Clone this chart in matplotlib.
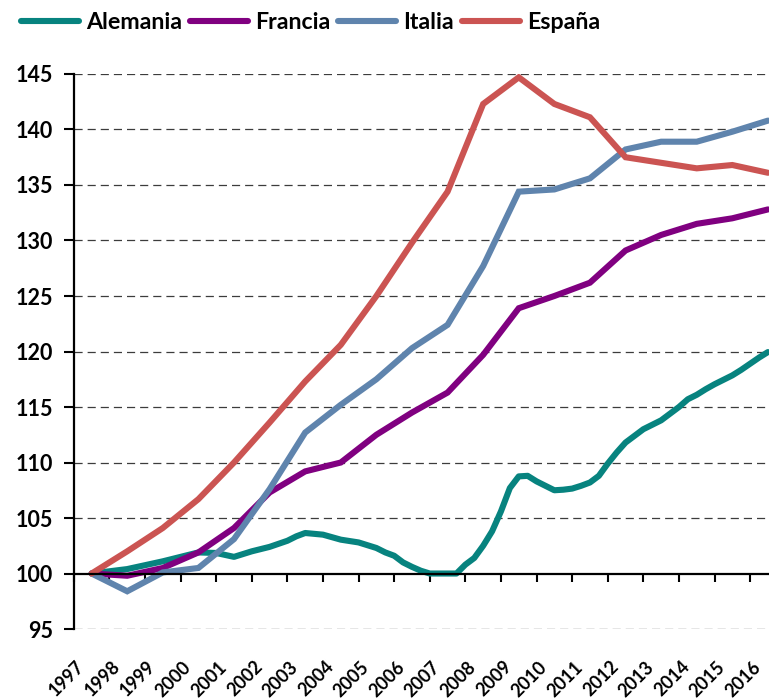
import numpy as np
import matplotlib.pyplot as plt
from matplotlib import transforms

plt.rcParams['font.family'] = ['Lato', 'DejaVu Sans']
plt.rcParams['font.weight'] = 'bold'

# annual index (1997 = 100)
years = list(range(1997, 2017))
francia = [100.0, 99.8, 100.5, 101.9, 104.1, 107.3, 109.2, 110.0, 112.5, 114.5,
           116.3, 119.7, 123.9, 125.0, 126.2, 129.1, 130.5, 131.5, 132.0, 132.8]
italia = [100.0, 98.4, 100.1, 100.5, 103.1, 107.6, 112.7, 115.2, 117.5, 120.3,
          122.4, 127.7, 134.4, 134.6, 135.6, 138.2, 138.9, 138.9, 139.8, 140.8]
espana = [100.0, 102.0, 104.1, 106.7, 110.0, 113.6, 117.3, 120.6, 125.0, 129.8,
          134.4, 142.3, 144.7, 142.3, 141.1, 137.5, 137.0, 136.5, 136.8, 136.1]

# germany comes in finer steps
ale_t = [1997.0, 1998.0, 1999.0, 2000.0, 2000.5, 2001.0, 2001.5, 2002.0, 2002.5,
         2002.75, 2003.0, 2003.5, 2004.0, 2004.5, 2005.0, 2005.25, 2005.5, 2005.75,
         2006.0, 2006.25, 2006.5, 2006.75, 2007.0, 2007.25, 2007.5, 2007.75,
         2008.0, 2008.25, 2008.5, 2008.75, 2009.0, 2009.25, 2009.5, 2009.75,
         2010.0, 2010.25, 2010.5, 2010.75, 2011.0, 2011.25, 2011.5, 2011.75,
         2012.0, 2012.25, 2012.5, 2012.75, 2013.0, 2013.25, 2013.5, 2013.75,
         2014.0, 2014.25, 2014.5, 2014.75, 2015.0, 2015.25, 2015.5, 2015.75, 2016.0]
alemania = [100.0, 100.4, 101.1, 101.9, 101.85, 101.5, 102.0, 102.4, 102.95,
            103.35, 103.65, 103.5, 103.05, 102.8, 102.3, 101.9, 101.6, 101.0,
            100.6, 100.25, 100.0, 100.0, 100.0, 100.0, 100.8, 101.4,
            102.5, 103.8, 105.6, 107.7, 108.75, 108.8, 108.3, 107.9,
            107.5, 107.55, 107.65, 107.9, 108.2, 108.8, 109.9, 110.9,
            111.8, 112.4, 113.0, 113.4, 113.8, 114.4, 115.0, 115.7,
            116.1, 116.6, 117.05, 117.45, 117.85, 118.35, 118.9, 119.45, 119.95]

names = ['Alemania', 'Francia', 'Italia', 'España']
colors = ['#07837f', '#800080', '#5f84ad', '#cb5452']

fig = plt.figure(figsize=(7.69, 7.0), dpi=100)
ax = fig.add_axes([0.096, 0.1014, 0.904, 0.7929])

x = np.array(years) - 1997
lw = 4.4
ax.plot(np.array(ale_t) - 1997, alemania, color=colors[0], lw=lw,
        solid_capstyle='round', solid_joinstyle='round', label=names[0], clip_on=False)
for vals, name, c in zip([francia, italia, espana], names[1:], colors[1:]):
    ax.plot(x, vals, color=c, lw=lw, solid_capstyle='round',
            solid_joinstyle='miter', label=name)

ax.set_xlim(-0.5, 19.03)
ax.set_ylim(95, 145)

# dashed reference lines
yt = np.arange(95, 146, 5)
for v in yt:
    if v != 100:
        ax.axhline(v, color='#3c3c3c', lw=0.9, ls=(0, (6.5, 4)), zorder=0)

ax.set_yticks(yt)
ax.set_yticklabels([str(v) for v in yt], fontsize=15.5, fontweight='bold')
ax.tick_params(axis='y', length=7, width=1.5, pad=8, direction='out')

ax.spines['top'].set_visible(False)
ax.spines['right'].set_visible(False)
ax.spines['left'].set_linewidth(1.6)
ax.spines['bottom'].set_linewidth(1.6)
ax.spines['bottom'].set_position(('data', 100))
ax.set_xticks(np.arange(-0.5, 19, 1))
ax.set_xticklabels([])
ax.tick_params(axis='x', length=6, width=1.5, direction='out')

# year labels sit under the plot area, turned 45 degrees
off = transforms.ScaledTranslation(-0.16, -0.29, fig.dpi_scale_trans)
trans = transforms.blended_transform_factory(ax.transData, ax.transAxes) + off
for i, yr in enumerate(years):
    ax.text(i, 0, str(yr), transform=trans, rotation=45, ha='right', va='top',
            rotation_mode='anchor', fontsize=13, fontweight='bold', clip_on=False)

fig.legend(loc='upper left', bbox_to_anchor=(21 / 769, 0.983), ncol=4, frameon=False,
           handlelength=2.5, handletextpad=0.3, columnspacing=0.35,
           borderpad=0, borderaxespad=0, prop={'weight': 'bold', 'size': 16.7})

fig.savefig('out.png', dpi=100)
